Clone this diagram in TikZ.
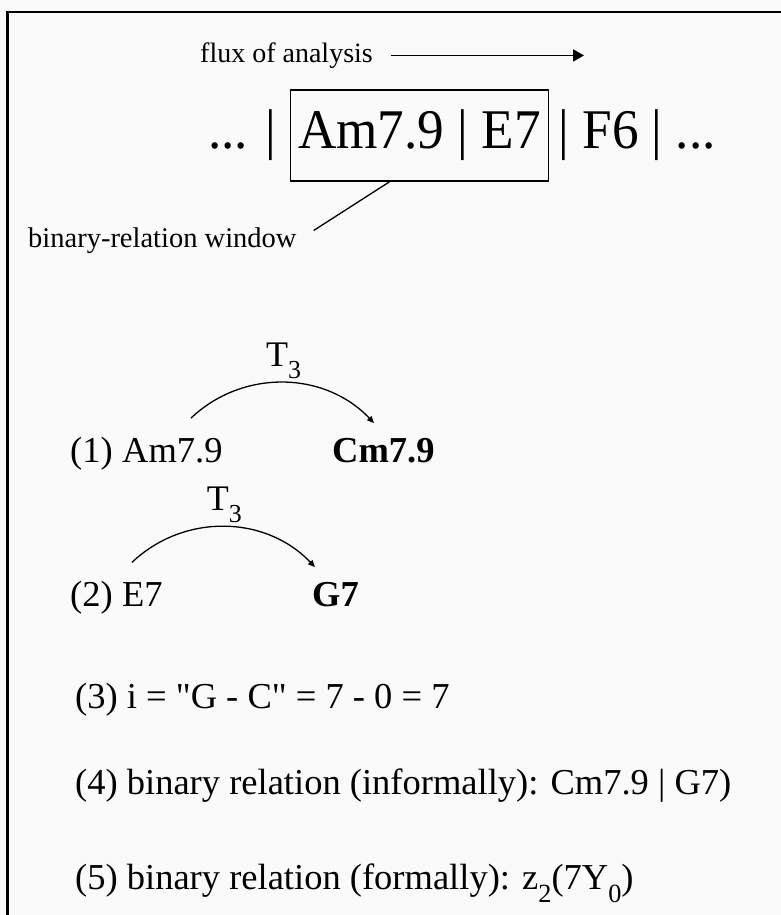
\documentclass[tikz,border=0pt]{standalone}
\usepackage{fontspec}
\setmainfont{Liberation Serif}
\newfontfamily\chordfont{Liberation Serif}[FakeStretch=0.95]
\usepackage{graphicx}
\usepackage{tikz}
\usetikzlibrary{arrows.meta, positioning}

\newcommand{\subidx}[1]{\raisebox{-0.33em}{\scalebox{0.72}{#1}}}

\begin{document}
\begin{tikzpicture}[
  x=1pt, y=1pt,
  inner sep=0pt,
  line/.style={line width=1.3pt},
  txt/.style={font=\fontsize{36.5}{40}\selectfont, anchor=base west},
  res/.style={font=\fontsize{36.5}{40}\selectfont\bfseries, anchor=base west},
  big/.style={font=\chordfont\fontsize{56}{60}\selectfont},
  note/.style={font=\fontsize{28.5}{32}\selectfont, anchor=base west},
  flow/.style={line width=1.6pt, -{Triangle[length=11pt,width=12pt]}},
  trans/.style={line width=1.3pt, -{Triangle[length=7pt,width=6pt]}},
]

% canvas and frame
\fill[black!2] (0,0) rectangle (781,915);
\useasboundingbox (0,0) rectangle (781,915);
\draw[line width=2.4pt] (7.5,0) |- (781,903);

% chord sequence with window
\node[big, draw, line width=1.6pt, minimum width=258pt, minimum height=91pt]
  (win) at (419.5,779.5) {Am7.9 | E7\hspace{8pt}};
\node[big, base left=13pt of win]  (lead) {... |};
\node[big, base right=9pt of win]  (tail) {| F6 | ...};

% direction of analysis
\node[note, font=\fontsize{28}{32}\selectfont] (flux) at (200,852.7) {flux of analysis};
\path (flux.east) ++(211,0) coordinate (fluxend);
\draw[flow] ([xshift=18pt]flux.east) -- (fluxend);

% window label
\node[note] (winlbl) at (28,667.7) {binary-relation window};
\draw[line] ([xshift=17pt,yshift=10pt]winlbl.east) -- ([xshift=-30pt]win.south);

% step 1
\node[txt] (s1) at (70,452) {(1)};
\node[txt, base right=9pt of s1] (am) {Am7.9};
\node[res] (cm) at (332,452) {Cm7.9};
\draw[trans] ([xshift=69pt,yshift=20.5pt]am.north west) to[bend left=45]
  node[above=3pt, font=\fontsize{36}{40}\selectfont] {T\subidx{3}}
  ([xshift=42pt,yshift=15.5pt]cm.north west);

% step 2
\node[txt] (s2) at (70,308) {(2)};
\node[txt, base right=9pt of s2] (e) {E7};
\node[res] (g) at (312,308) {G7};
\draw[trans] ([xshift=10pt,yshift=20.5pt]e.north west) to[bend left=45]
  node[above=3pt, font=\fontsize{36}{40}\selectfont] {T\subidx{3}}
  ([xshift=3pt,yshift=15.5pt]g.north west);

% steps 3-5
\node[txt] (s3) at (75,206) {(3) i = \textquotedbl G - C\textquotedbl{} = 7 - 0 = 7};
\node[txt] (s4) at (75,120) {(4) binary relation (informally): Cm7.9 | G7)};
\node[txt] (s5) at (75,25)  {(5) binary relation (formally): z\subidx{2}(7Y\subidx{0})};

\end{tikzpicture}
\end{document}
